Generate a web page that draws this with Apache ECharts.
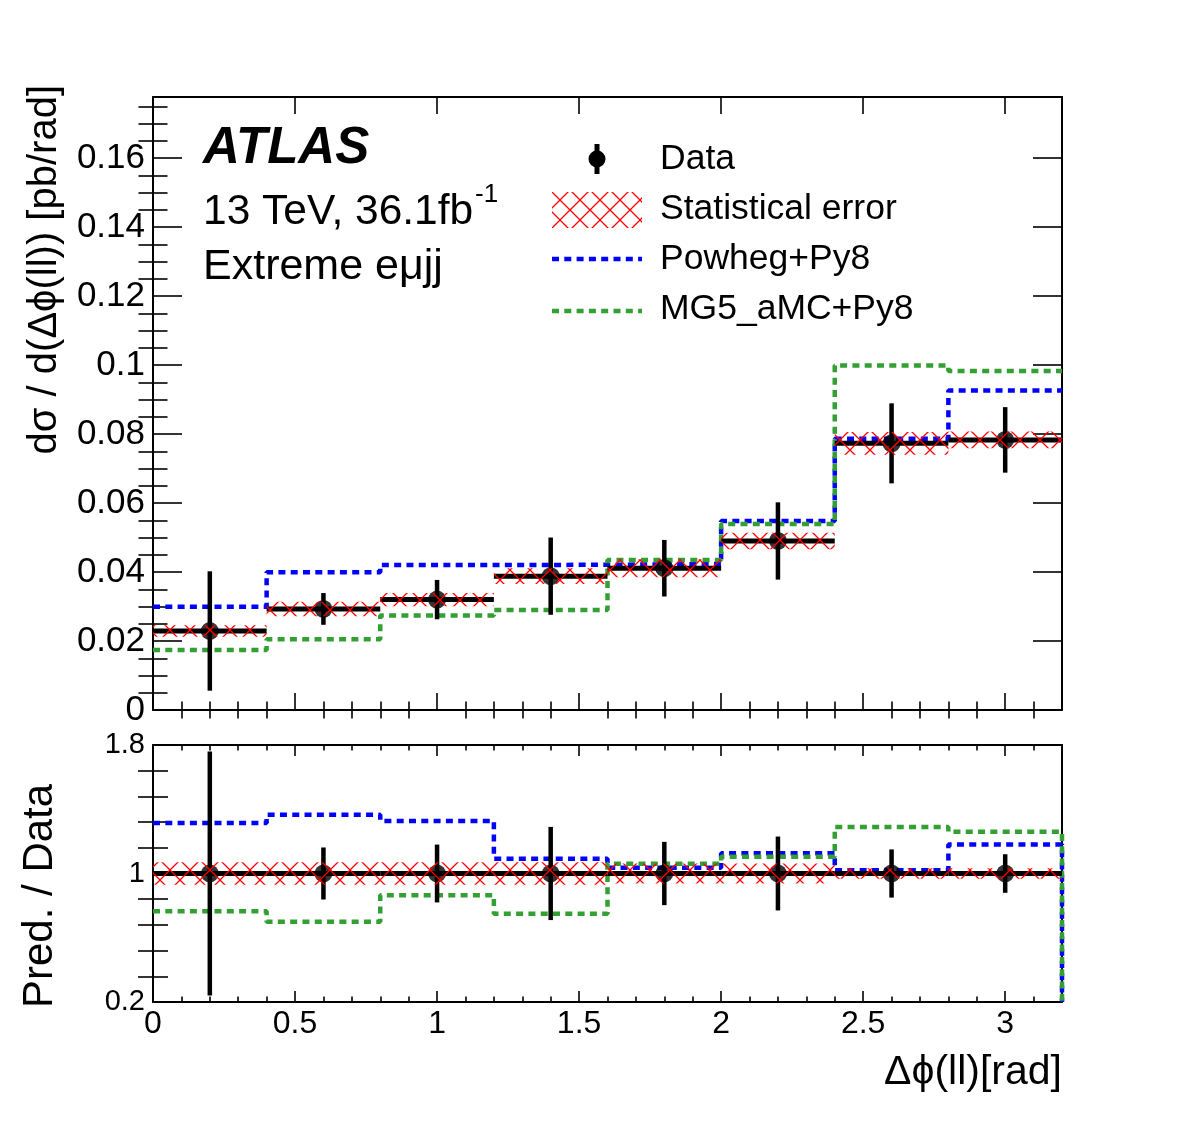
<!DOCTYPE html>
<html>
<head>
<meta charset="utf-8">
<script src="https://cdn.jsdelivr.net/npm/echarts@6/dist/echarts.min.js"></script>
<style>
  html, body { margin: 0; padding: 0; background: #fff; }
  #main { width: 1182px; height: 1123px; }
</style>
</head>
<body>
<div id="main"></div>
<script>
// bin edges of the delta-phi(ll) histogram
var binEdges = [0, 0.4, 0.8, 1.2, 1.6, 2.0, 2.4, 2.8, 3.2];

// top panel: d sigma / d dphi [pb/rad]
var dataVals  = [0.0229, 0.0293, 0.0320, 0.0388, 0.0411, 0.0490, 0.0773, 0.0783];
var dataErr   = [0.0173, 0.0046, 0.0057, 0.0112, 0.0082, 0.0112, 0.0116, 0.0095];
var statErr   = [0.0017, 0.0021, 0.0019, 0.0023, 0.0026, 0.0024, 0.0033, 0.0024];
var powhegVals = [0.0299, 0.0399, 0.0420, 0.0421, 0.0423, 0.0548, 0.0786, 0.0926];
var mg5Vals    = [0.0174, 0.0205, 0.0274, 0.0290, 0.0435, 0.0539, 0.0999, 0.0983];

// bottom panel: pred / data
var ratioData   = [1, 1, 1, 1, 1, 1, 1, 1];
var ratioErr    = [0.76, 0.162, 0.18, 0.29, 0.197, 0.23, 0.15, 0.12];
var ratioStat   = [0.07, 0.07, 0.07, 0.07, 0.062, 0.062, 0.032, 0.032];
var powhegRatio = [1.314, 1.366, 1.327, 1.092, 1.036, 1.126, 1.02, 1.18];
var mg5Ratio    = [0.765, 0.70, 0.864, 0.75, 1.06, 1.105, 1.29, 1.26];

// ticks and labels
var xMajor = [0, 0.5, 1, 1.5, 2, 2.5, 3];
var xLabels = [0, 0.5, 1, 1.5, 2, 2.5, 3];
var yTopMajor = [0, 0.02, 0.04, 0.06, 0.08, 0.1, 0.12, 0.14, 0.16];
var yTopLabels = [0, 0.02, 0.04, 0.06, 0.08, 0.1, 0.12, 0.14, 0.16];
var yBotMajor = [0.2, 1, 1.8];
var yBotLabels = [0.2, 1, 1.8];

var xMinor = [], yTopMinor = [], yBotMinor = [];
for (var i = 1; i < 32; i++) { if (i % 5) xMinor.push(i / 10); }
for (var j = 1; j <= 35; j++) { if (j % 4) yTopMinor.push(j * 0.005); }
for (var k = 1; k < 10; k++) { if (k % 5) yBotMinor.push(0.2 + k * 0.16); }

var FONT = 'Liberation Sans';
var BLUE = '#0000ff', GREEN = '#33a033', RED = '#ff0000';

function fmt(v) { return String(Math.round(v * 1000) / 1000); }

function hatchCanvas() {
  var c = document.createElement('canvas');
  c.width = 20; c.height = 20;
  var g = c.getContext('2d');
  g.strokeStyle = RED; g.lineWidth = 1.3;
  g.beginPath();
  g.moveTo(-2, -2); g.lineTo(22, 22);
  g.moveTo(22, -2); g.lineTo(-2, 22);
  g.stroke();
  return c;
}
var hatch = { image: hatchCanvas(), repeat: 'repeat' };

function sideAxes(grid, pos, min, max, majors, minors, majLen, minLen, labels, labelSize, margin) {
  var tickStyle = { color: '#000', width: 1.6 };
  var base = { gridIndex: grid, type: 'value', position: pos, min: min, max: max,
               splitLine: { show: false } };
  var major = Object.assign({}, base, {
    axisLine: { show: true, onZero: false, lineStyle: { color: '#000', width: 2 } },
    axisTick: { show: true, inside: true, length: majLen, customValues: majors, lineStyle: tickStyle },
    axisLabel: labels ? { show: true, customValues: labels, fontSize: labelSize, color: '#000',
                          fontFamily: FONT, margin: margin, formatter: fmt } : { show: false }
  });
  var minor = Object.assign({}, base, {
    axisLine: { show: false },
    axisTick: { show: true, inside: true, length: minLen, customValues: minors, lineStyle: tickStyle },
    axisLabel: { show: false }
  });
  return [major, minor];
}

var xAxes = [].concat(
  sideAxes(0, 'bottom', 0, 3.2, xMajor, xMinor, 17, 8.5, null),
  sideAxes(0, 'top', 0, 3.2, xMajor, xMinor, 17, 8.5, null),
  sideAxes(1, 'bottom', 0, 3.2, xMajor, xMinor, 11, 5.5, xLabels, 32, 6),
  sideAxes(1, 'top', 0, 3.2, xMajor, xMinor, 11, 5.5, null)
);
var yAxes = [].concat(
  sideAxes(0, 'left', 0, 0.1777, yTopMajor, yTopMinor, 29, 14.5, yTopLabels, 35, 8),
  sideAxes(0, 'right', 0, 0.1777, yTopMajor, yTopMinor, 29, 14.5, null),
  sideAxes(1, 'left', 0.2, 1.8, yBotMajor, yBotMinor, 15, 15, yBotLabels, 29, 8),
  sideAxes(1, 'right', 0.2, 1.8, yBotMajor, yBotMinor, 15, 15, null)
);

function stepPoints(vals, dropTo) {
  var pts = binEdges.map(function (e, i) { return [e, vals[Math.min(i, vals.length - 1)]]; });
  if (dropTo != null) pts.push([binEdges[binEdges.length - 1], dropTo]);
  return pts;
}
function bandData(vals, errs) {
  return vals.map(function (v, i) { return [binEdges[i], binEdges[i + 1], v + errs[i], v - errs[i]]; });
}
function barData(vals) {
  return vals.map(function (v, i) { return [binEdges[i], binEdges[i + 1], v]; });
}
function errData(vals, errs) {
  return vals.map(function (v, i) { return [(binEdges[i] + binEdges[i + 1]) / 2, v + errs[i], v - errs[i]]; });
}
function centers(vals) {
  return vals.map(function (v, i) { return [(binEdges[i] + binEdges[i + 1]) / 2, v]; });
}

function panelSeries(xi, yi, vals, errs, stat, pw, mg, dropTo) {
  var ax = { xAxisIndex: xi, yAxisIndex: yi };
  return [
    Object.assign({ type: 'line', step: 'end', data: stepPoints(pw, dropTo), showSymbol: false, z: 2,
      lineStyle: { color: BLUE, width: 4.5, type: [7, 5.3], cap: 'butt' }, silent: true }, ax),
    Object.assign({ type: 'line', step: 'end', data: stepPoints(mg, dropTo), showSymbol: false, z: 3,
      lineStyle: { color: GREEN, width: 4.5, type: [7, 5.3], cap: 'butt' }, silent: true }, ax),
    Object.assign({ type: 'custom', data: barData(vals), z: 4, silent: true,
      renderItem: function (p, api) {
        var a = api.coord([api.value(0), api.value(2)]);
        var b = api.coord([api.value(1), api.value(2)]);
        return { type: 'line', shape: { x1: a[0], y1: a[1], x2: b[0], y2: b[1] },
                 style: { stroke: '#000', lineWidth: 5 } };
      } }, ax),
    Object.assign({ type: 'custom', data: errData(vals, errs), z: 4, silent: true,
      renderItem: function (p, api) {
        var a = api.coord([api.value(0), api.value(1)]);
        var b = api.coord([api.value(0), api.value(2)]);
        return { type: 'line', shape: { x1: a[0], y1: a[1], x2: b[0], y2: b[1] },
                 style: { stroke: '#000', lineWidth: 4.5 } };
      } }, ax),
    Object.assign({ type: 'scatter', data: centers(vals), symbol: 'circle', symbolSize: 18, z: 5,
      itemStyle: { color: '#000' }, silent: true }, ax),
    Object.assign({ type: 'custom', data: bandData(vals, stat), z: 6, silent: true,
      renderItem: function (p, api) {
        var lo = api.coord([api.value(0), api.value(3)]);
        var hi = api.coord([api.value(1), api.value(2)]);
        return { type: 'rect', shape: { x: lo[0], y: hi[1], width: hi[0] - lo[0], height: lo[1] - hi[1] },
                 style: { fill: hatch, stroke: null } };
      } }, ax)
  ];
}

var series = [].concat(
  panelSeries(0, 0, dataVals, dataErr, statErr, powhegVals, mg5Vals, null),
  panelSeries(4, 4, ratioData, ratioErr, ratioStat, powhegRatio, mg5Ratio, 0.2)
);

function txt(x, y, s, size, extra) {
  return { type: 'text', x: x, y: y, z: 20,
    style: Object.assign({ text: s, fontSize: size, fontFamily: FONT, fill: '#000',
      textAlign: 'left', textVerticalAlign: 'middle' }, extra || {}) };
}
function dash(y, color) {
  return { type: 'line', z: 20, shape: { x1: 552, y1: y, x2: 642, y2: y },
    style: { stroke: color, lineWidth: 4.5, lineDash: [7, 5.3] } };
}

var yTitle = txt(45, 85, 'd\u03c3 / d(\u0394\u03d5(ll)) [pb/rad]', 40, { textAlign: 'right' });
yTitle.rotation = Math.PI / 2;
var rTitle = txt(40, 1008, 'Pred. / Data', 42);
rTitle.rotation = Math.PI / 2;

var graphics = [
  txt(203, 149, 'ATLAS', 51, { fontWeight: 'bold', fontStyle: 'italic' }),
  txt(203, 212, '13 TeV, 36.1fb', 42.5),
  txt(475, 195, '-1', 26),
  txt(203, 267, 'Extreme e\u03bcjj', 43),
  // legend
  { type: 'rect', z: 20, shape: { x: 594.5, y: 144, width: 5, height: 30 }, style: { fill: '#000' } },
  { type: 'circle', z: 20, shape: { cx: 597, cy: 159, r: 8.5 }, style: { fill: '#000' } },
  txt(660, 159, 'Data', 35.5),
  { type: 'rect', z: 20, shape: { x: 552, y: 192, width: 90, height: 36 }, style: { fill: hatch } },
  txt(660, 209, 'Statistical error', 35.5),
  dash(259, BLUE),
  txt(660, 259, 'Powheg+Py8', 35.5),
  dash(311, GREEN),
  txt(660, 309, 'MG5_aMC+Py8', 35.5),
  // axis titles
  yTitle,
  rTitle,
  txt(1062, 1073, '\u0394\u03d5(ll)[rad]', 41, { textAlign: 'right' })
];

var chart = echarts.init(document.getElementById('main'), null, { renderer: 'canvas' });
chart.setOption({
  backgroundColor: '#fff',
  animation: false,
  grid: [
    { left: 153, right: 120, top: 97, height: 613 },
    { left: 153, right: 120, top: 745, height: 257 }
  ],
  xAxis: xAxes,
  yAxis: yAxes,
  series: series,
  graphic: graphics
});
</script>
</body>
</html>
